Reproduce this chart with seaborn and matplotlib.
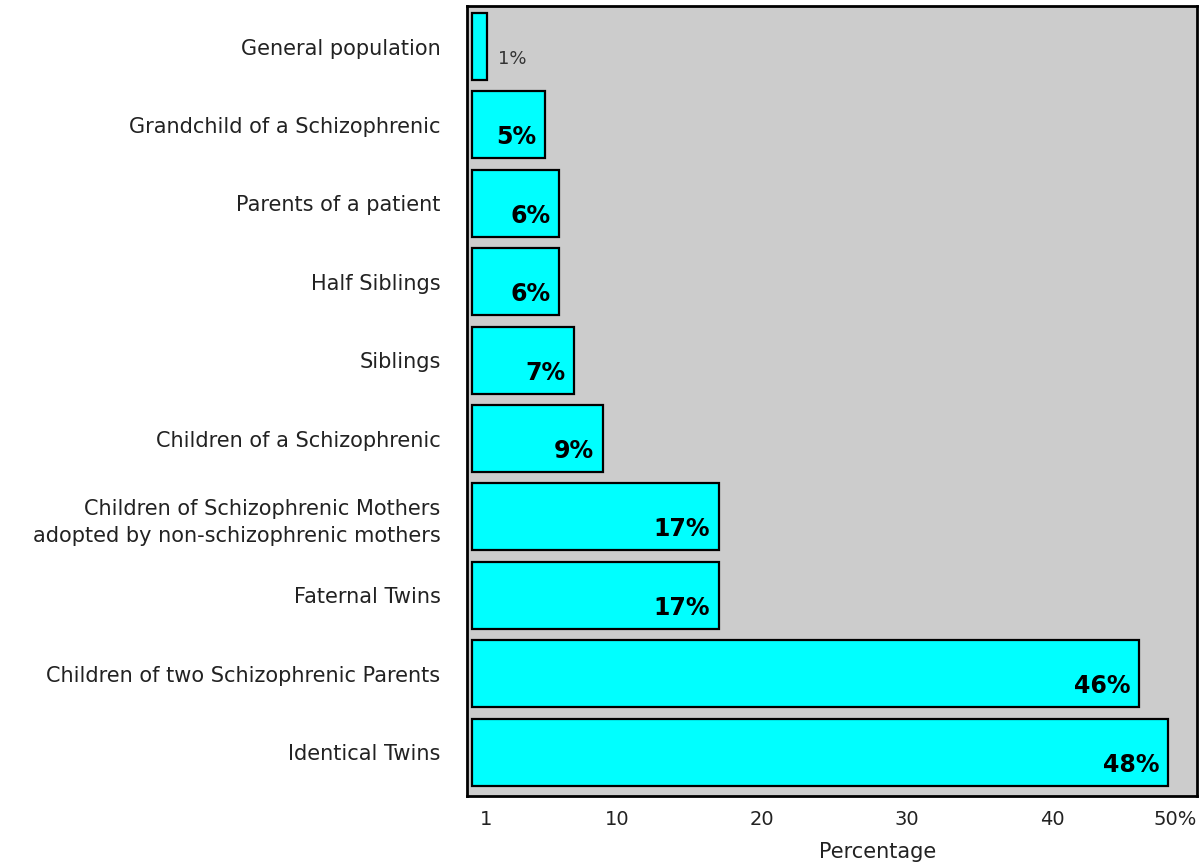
import matplotlib
matplotlib.use("Agg")
import matplotlib.pyplot as plt
import pandas as pd
import seaborn as sns

# risk of schizophrenia by relationship
groups = [
    "General population",
    "Grandchild of a Schizophrenic",
    "Parents of a patient",
    "Half Siblings",
    "Siblings",
    "Children of a Schizophrenic",
    "Children of Schizophrenic Mothers\nadopted by non-schizophrenic mothers",
    "Faternal Twins",
    "Children of two Schizophrenic Parents",
    "Identical Twins",
]
risk = [1, 5, 6, 6, 7, 9, 17, 17, 46, 48]
xticks = [1, 10, 20, 30, 40, 50]

df = pd.DataFrame({"group": groups, "risk": risk})

sns.set_style("white")
plt.rcParams["font.family"] = ["DejaVu Sans"]

fig = plt.figure(figsize=(12.02, 8.67), dpi=100)
ax = fig.add_axes([0.3885, 0.0819, 0.6073, 0.9112])
ax.set_facecolor("#cccccc")

sns.barplot(data=df, x="risk", y="group", orient="h", color="#00ffff",
            saturation=1, edgecolor="black", linewidth=1.6, width=0.855, ax=ax)

ax.set_xlim(-0.35, 50)
ax.set_ylim(9.56, -0.517)

ax.set_xticks(xticks)
ax.set_xticklabels([str(t) if t != 50 else "50%" for t in xticks])
ax.get_xticklabels()[-1].set_horizontalalignment("right")
ax.tick_params(axis="x", length=0, pad=10, labelsize=14, labelcolor="#222222")
ax.tick_params(axis="y", length=0, pad=19, labelsize=15, labelcolor="#222222")
for lab in ax.get_yticklabels():
    lab.set_linespacing(1.45)

ax.set_ylabel("")
ax.set_xlabel("Percentage", fontsize=15, color="#222222")
ax.xaxis.set_label_coords(0.562, -0.058)

for s in ax.spines.values():
    s.set_visible(True)
    s.set_color("black")
    s.set_linewidth(2)

# value labels
for i, v in enumerate(risk):
    if i == 0:
        ax.annotate(f"{v}%", (v, i), xytext=(8, -9), textcoords="offset points",
                    ha="left", va="center", fontsize=13, color="#333333")
    else:
        ax.annotate(f"{v}%", (v, i), xytext=(-6, -9), textcoords="offset points",
                    ha="right", va="center", fontsize=17, fontweight="bold",
                    color="black")

fig.savefig("out.png", dpi=100)
